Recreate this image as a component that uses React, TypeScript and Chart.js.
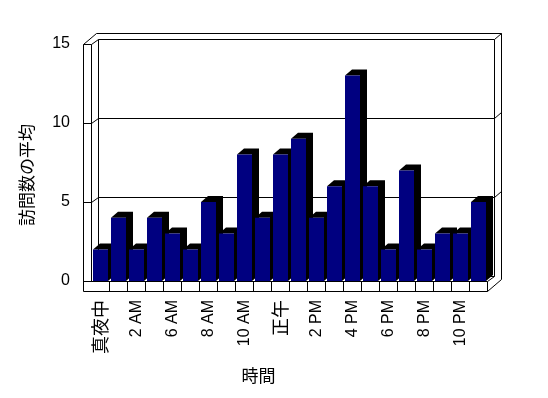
import React, { useEffect, useRef } from "react";
import { Chart, registerables } from "chart.js";

Chart.register(...registerables);

const hourLabels = [
  "真夜中", "1 AM", "2 AM", "4 AM", "6 AM", "7 AM", "8 AM", "9 AM", "10 AM", "11 AM", "正午",
  "1 PM", "2 PM", "3 PM", "4 PM", "5 PM", "6 PM", "7 PM", "8 PM", "9 PM", "10 PM", "11 PM",
];
const avgVisits = [2, 4, 2, 4, 3, 2, 5, 3, 8, 4, 8, 9, 4, 6, 13, 6, 2, 7, 2, 3, 3, 5];
const yTicks = [0, 5, 10, 15];
const xTitle = "時間";
const yTitle = "訪問数の平均";

const FONT = "'Liberation Sans', Arial, 'Noto Sans CJK JP', sans-serif";
const CJK_FONT = "'Noto Sans CJK JP', 'Liberation Sans', sans-serif";

const frame3d = {
  id: "frame3d",
  beforeDatasetsDraw(chart: any) {
    const { ctx, chartArea, scales } = chart;
    const { left, right, top, bottom } = chartArea;
    const y = scales.y;
    const x = scales.x;
    const c = (v: number) => Math.round(v - 0.5) + 0.5;
    const dx = 7, dy = -5;
    const ox = 7, oy = -6;
    const stripL = left - 8;
    const floorB = bottom + 10;
    const line = (x1: number, y1: number, x2: number, y2: number) => {
      ctx.beginPath();
      ctx.moveTo(c(x1), c(y1));
      ctx.lineTo(c(x2), c(y2));
      ctx.stroke();
    };
    ctx.save();
    ctx.strokeStyle = "#000";
    ctx.lineWidth = 1;
    const bl = left + dx, br = right + dx, bt = top + dy, bb = bottom + dy;
    // back wall inner face
    line(bl, bt, br, bt);
    line(bl, bt, bl, bb);
    line(br, bt, br, bb);
    line(bl, bb, br, bb);
    // back wall outer edges
    line(stripL + 13, bt + oy, br + ox, bt + oy);
    line(br + ox, bt + oy, br + ox, bb + 3);
    line(br, bt, br + ox, bt + oy);
    // left strip
    line(stripL, top, stripL, floorB);
    line(left, top, left, bottom);
    line(stripL, top, left, top);
    line(stripL, top, stripL + 13, bt + oy);
    line(left, top, bl, bt);
    // grid lines
    for (const v of yTicks) {
      if (v === 0 || v === 15) continue;
      const py = y.getPixelForValue(v);
      line(stripL, py, left, py);
      line(left, py, bl, py + dy);
      line(bl, py + dy, br, py + dy);
      line(br, py + dy, br + ox, py + dy + oy);
    }
    // floor
    line(stripL, bottom, right, bottom);
    line(stripL, floorB, right, floorB);
    line(right, bottom, right, floorB);
    const w = x.width / hourLabels.length;
    for (let i = 1; i < hourLabels.length; i++) {
      const px = x.getPixelForValue(i) - w / 2;
      line(px, bottom, px, floorB);
    }
    line(right, bottom, br, bb);
    line(right, floorB, br + ox, bb + 3);
    ctx.restore();

    // bar depth faces
    const meta = chart.getDatasetMeta(0);
    const bdx = 7, bdy = -6;
    ctx.save();
    ctx.fillStyle = "#000";
    for (const el of meta.data) {
      const p = el.getProps(["x", "y", "base", "width"], true);
      const l = p.x - p.width / 2;
      const r = p.x + p.width / 2;
      ctx.beginPath();
      ctx.moveTo(l, p.y);
      ctx.lineTo(l + bdx, p.y + bdy);
      ctx.lineTo(r + bdx, p.y + bdy);
      ctx.lineTo(r + bdx, p.base + bdy);
      ctx.lineTo(r, p.base);
      ctx.lineTo(r, p.y);
      ctx.closePath();
      ctx.fill();
    }
    ctx.restore();
  },
  afterDraw(chart: any) {
    const { ctx } = chart;
    ctx.save();
    ctx.fillStyle = "#000";
    ctx.textAlign = "center";
    ctx.textBaseline = "middle";
    ctx.font = `17px ${CJK_FONT}`;
    ctx.fillText(xTitle, 258.5, 376);
    ctx.translate(26.5, 175);
    ctx.rotate(-Math.PI / 2);
    ctx.fillText(yTitle, 0, 0);
    ctx.restore();
  },
};

export default function App() {
  const ref = useRef<HTMLCanvasElement | null>(null);
  useEffect(() => {
    document.body.style.margin = "0";
    const canvas = ref.current!;
    const chart = new Chart(canvas, {
      type: "bar",
      data: {
        labels: hourLabels,
        datasets: [
          {
            data: avgVisits,
            backgroundColor: "#000080",
            borderWidth: 0,
            barPercentage: 15 / 18,
            categoryPercentage: 1,
          },
        ],
      },
      plugins: [frame3d],
      options: {
        responsive: false,
        animation: false,
        devicePixelRatio: 1,
        layout: { padding: { top: 44, right: 60.5, left: 0, bottom: 0 } },
        plugins: { legend: { display: false }, tooltip: { enabled: false } },
        scales: {
          x: {
            offset: true,
            border: { display: false },
            grid: { display: false, drawTicks: false },
            ticks: {
              autoSkip: false,
              minRotation: 90,
              maxRotation: 90,
              padding: 19,
              color: "#000",
              font: (ctx: any) => {
                const lbl = hourLabels[ctx.index] || "";
                return /[^\x00-\x7f]/.test(lbl)
                  ? { family: CJK_FONT, size: 18 }
                  : { family: FONT, size: 16 };
              },
              callback: (_v: any, i: number) => (i % 2 === 0 ? hourLabels[i] : ""),
            },
            afterFit: (s: any) => {
              s.height = 117;
            },
          },
          y: {
            min: 0,
            max: 15,
            border: { display: false },
            grid: { display: false, drawTicks: false },
            afterBuildTicks: (s: any) => {
              s.ticks = yTicks.map((v) => ({ value: v }));
            },
            ticks: {
              padding: 21.5,
              color: "#000",
              font: { family: FONT, size: 16 },
            },
            afterFit: (s: any) => {
              s.width = 91.5;
            },
          },
        },
      },
    });
    return () => chart.destroy();
  }, []);
  return (
    <div style={{ width: 548, height: 398 }}>
      <canvas ref={ref} width={548} height={398} />
    </div>
  );
}
